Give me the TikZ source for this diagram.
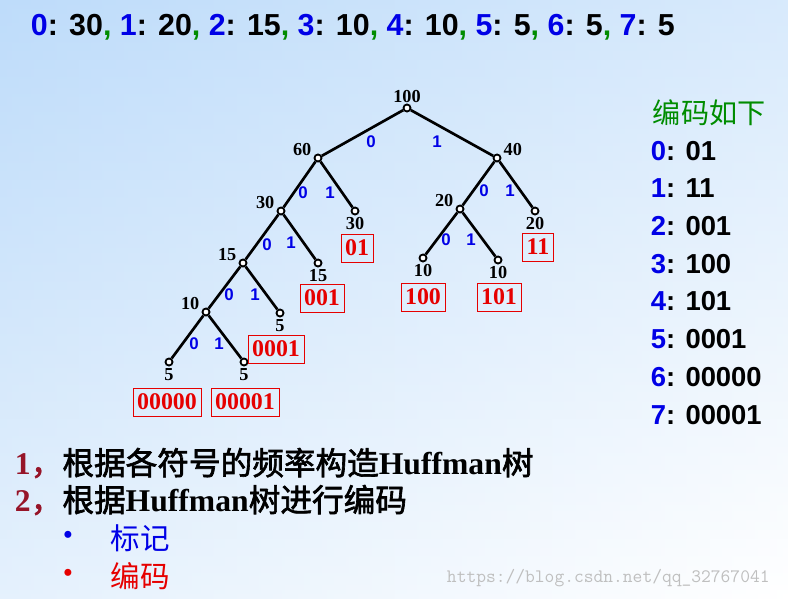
\documentclass[tikz,border=0pt]{standalone}
\usepackage{fontspec}
\setmainfont{Liberation Serif}
\newfontfamily\arial{Liberation Sans}
\newfontfamily\cjk[AutoFakeBold=2]{Noto Sans CJK SC}
\usetikzlibrary{positioning}
\definecolor{numblue}{RGB}{0,0,230}
\definecolor{commagreen}{RGB}{0,140,0}
\definecolor{darkred}{RGB}{150,20,40}
\definecolor{codered}{RGB}{230,0,0}
\definecolor{bgblue}{RGB}{190,220,250}
\tikzset{
  knot/.style={circle,draw,line width=1.3pt,fill=white,inner sep=0pt,minimum size=5pt},
  wt/.style={font=\bfseries\fontsize{13}{15}\selectfont},
  bit/.style={font=\arial\bfseries\fontsize{12}{14}\selectfont,text=numblue},
  codebox/.style={draw=codered,text=codered,font=\bfseries\fontsize{17}{19}\selectfont,inner sep=3pt,minimum height=20pt},
  edge/.style={line width=1.9pt}
}
\newcommand{\sym}[2]{\textcolor{numblue}{#1}: #2}
\newcommand{\cm}{\textcolor{commagreen}{,}}
\begin{document}
\begin{tikzpicture}[x=0.025cm,y=-0.025cm]
\shade[left color=bgblue,right color=white] (0,0) rectangle (788,598);
\shade[top color=bgblue,bottom color=white,opacity=0.6] (0,0) rectangle (788,598);
\useasboundingbox (0,0) rectangle (788,598);

% Kopfzeile
\node[anchor=west,font=\arial\bfseries\fontsize{21.6}{25}\selectfont] (head) at (26,27) {\sym{0}{30}\cm{} \sym{1}{20}\cm{} \sym{2}{15}\cm{} \sym{3}{10}\cm{} \sym{4}{10}\cm{} \sym{5}{5}\cm{} \sym{6}{5}\cm{} \sym{7}{5}};

% Knoten
\node[knot] (n100) at (407,108) {};
\node[knot] (n60) at (318,158) {};
\node[knot] (n40) at (497,158) {};
\node[knot] (n30) at (281,211) {};
\node[knot] (l30) at (355,211) {};
\node[knot] (n20) at (460,209) {};
\node[knot] (l20) at (535,211) {};
\node[knot] (n15) at (243,263) {};
\node[knot] (l15) at (318,263) {};
\node[knot] (l10a) at (423,258) {};
\node[knot] (l10b) at (498,260) {};
\node[knot] (n10) at (206,312) {};
\node[knot] (l5a) at (280,313) {};
\node[knot] (l5b) at (169,362) {};
\node[knot] (l5c) at (244,362) {};

% Kanten
\draw[edge] (n100)--(n60); \draw[edge] (n100)--(n40);
\draw[edge] (n60)--(n30); \draw[edge] (n60)--(l30);
\draw[edge] (n40)--(n20); \draw[edge] (n40)--(l20);
\draw[edge] (n30)--(n15); \draw[edge] (n30)--(l15);
\draw[edge] (n20)--(l10a); \draw[edge] (n20)--(l10b);
\draw[edge] (n15)--(n10); \draw[edge] (n15)--(l5a);
\draw[edge] (n10)--(l5b); \draw[edge] (n10)--(l5c);

% Gewichte
\node[wt,above=-3pt of n100] {100};
\node[wt,above left=-4pt and -1pt of n60] {60};
\node[wt,above right=-4pt and -1pt of n40] {40};
\node[wt,above left=-4pt and -1pt of n30] {30};
\node[wt,below=-2pt of l30] {30};
\node[wt,above left=-4pt and -1pt of n20] {20};
\node[wt,below=-2pt of l20] {20};
\node[wt,above left=-4pt and -1pt of n15] {15};
\node[wt,below=-2pt of l15] {15};
\node[wt,below=-2pt of l10a] {10};
\node[wt,below=-2pt of l10b] {10};
\node[wt,above left=-4pt and -1pt of n10] {10};
\node[wt,below=-2pt of l5a] {5};
\node[wt,below=-2pt of l5b] {5};
\node[wt,below=-2pt of l5c] {5};

% Bits
\node[bit] at (371,142) {0}; \node[bit] at (437,142) {1};
\node[bit] at (303,193) {0}; \node[bit] at (330,193) {1};
\node[bit] at (484,191) {0}; \node[bit] at (510,191) {1};
\node[bit] at (267,245) {0}; \node[bit] at (291,243) {1};
\node[bit] at (446,240) {0}; \node[bit] at (471,240) {1};
\node[bit] at (229,295) {0}; \node[bit] at (255,295) {1};
\node[bit] at (194,344) {0}; \node[bit] at (219,344) {1};

% Codes
\node[codebox] (c1) at (357,248) {01};
\node[codebox] (c2) at (538,247) {11};
\node[codebox] (c3) at (322,298) {001};
\node[codebox] (c4) at (423,297) {100};
\node[codebox] (c5) at (499,297) {101};
\node[codebox] (c6) at (276,349) {0001};
\node[codebox] (c7) at (167,402) {00000};
\node[codebox] (c8) at (245,402) {00001};

% Codetabelle
\node[anchor=west,font=\cjk\fontsize{20}{24}\selectfont,text=commagreen] (tab) at (648,113) {编码如下};
\foreach \s/\c [count=\i] in {0/01,1/11,2/001,3/100,4/101,5/0001,6/00000,7/00001}
  \node[anchor=west,font=\arial\bfseries\fontsize{19.5}{23}\selectfont] at (646,113+37.7*\i) {\sym{\s}{\c}};

% Text unten
\node[anchor=west,font=\bfseries\fontsize{22.5}{26}\selectfont] (t1) at (10,463) {\textcolor{darkred}{1\cjk ，}{\cjk 根据各符号的频率构造}Huffman{\cjk 树}};
\node[anchor=west,font=\bfseries\fontsize{22.5}{26}\selectfont] (t2) at (10,500) {\textcolor{darkred}{2\cjk ，}{\cjk 根据}Huffman{\cjk 树进行编码}};
\node[font=\huge,text=numblue] (b1) at (68,538) {\textbullet};
\node[anchor=west,font=\cjk\fontsize{21}{25}\selectfont,text=numblue] at (106,538) {标记};
\node[font=\huge,text=codered] (b2) at (68,576) {\textbullet};
\node[anchor=west,font=\cjk\fontsize{21}{25}\selectfont,text=codered] at (106,576) {编码};
\node[anchor=west,font=\ttfamily\fontsize{13.5}{15}\selectfont,text=gray!50] at (442,578) {https://blog.csdn.net/qq\_32767041};
\end{tikzpicture}
\end{document}
